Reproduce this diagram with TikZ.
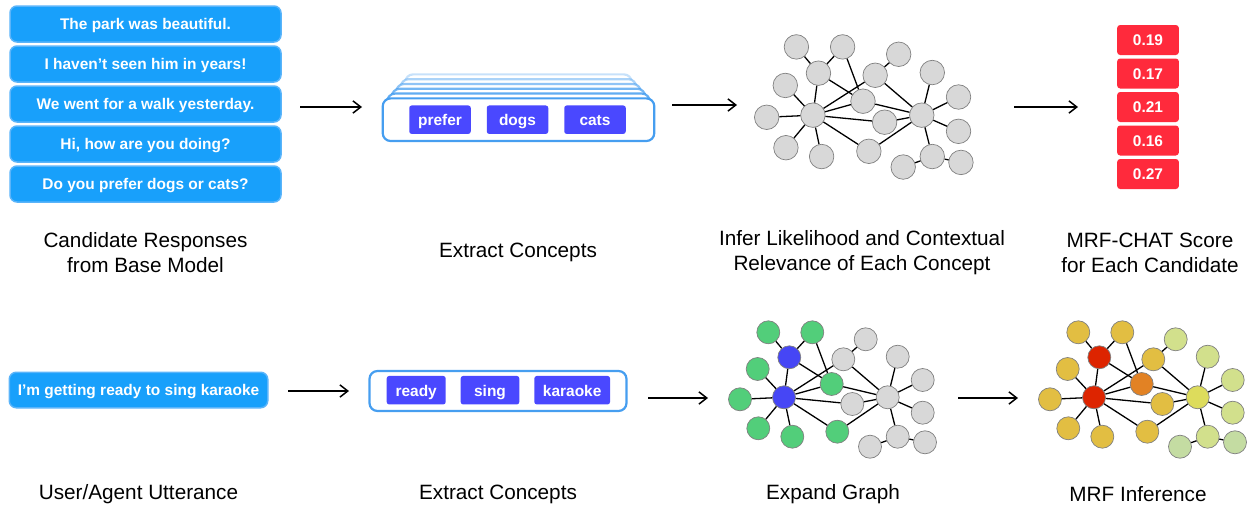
\documentclass[tikz,border=0pt]{standalone}
\usepackage{fontspec}
\setmainfont{Liberation Sans}
\usetikzlibrary{arrows.meta}

% one pixel of the layout
\newdimen\pxu \pxu=0.02cm

\definecolor{respblue}{RGB}{24,160,251}
\definecolor{respedge}{RGB}{90,180,250}
\definecolor{chipblue}{RGB}{74,72,255}
\definecolor{stackedge}{RGB}{70,158,240}
\definecolor{scorered}{RGB}{255,42,60}
\definecolor{nodegray}{RGB}{216,216,216}
\definecolor{nodeedge}{RGB}{128,128,128}
\definecolor{nodegreen}{RGB}{82,206,122}
\definecolor{nodeblue}{RGB}{70,70,245}
\definecolor{mrfred}{RGB}{221,36,0}
\definecolor{mrforange}{RGB}{226,130,36}
\definecolor{mrfgold}{RGB}{226,190,66}
\definecolor{mrfyellow}{RGB}{221,220,92}
\definecolor{mrflime}{RGB}{210,224,140}
\definecolor{mrfsage}{RGB}{196,220,162}

\tikzset{
  whitetext/.style={text=white, font=\fontsize{8.8}{10}\selectfont\bfseries,
    text height=0.72em, text depth=0.04em},
  response/.style={rectangle, rounded corners=7\pxu, fill=respblue, draw=respedge,
    line width=1.5\pxu, minimum width=271\pxu, minimum height=36\pxu, inner sep=0pt, whitetext},
  chip/.style={rectangle, rounded corners=2.5\pxu, fill=chipblue, minimum height=28.5\pxu,
    inner sep=0pt, whitetext},
  conceptbox/.style={rectangle, rounded corners=8\pxu, draw=stackedge, line width=2.2\pxu, fill=white},
  score/.style={rectangle, rounded corners=3\pxu, fill=scorered, minimum width=61.7\pxu,
    minimum height=30\pxu, inner sep=0pt, whitetext},
  caption/.style={align=center, inner sep=0pt, font=\fontsize{11.8}{14.2}\selectfont},
  flow/.style={-{Straight Barb[length=4.5pt,width=7pt]}, line width=0.85pt},
  cnode/.style={circle, draw=nodeedge, line width=0.7\pxu, fill=nodegray, minimum size=23\pxu, inner sep=0pt},
  link/.style={line width=1.3\pxu, black},
}

% concept graph layout (pixels, relative to its top left)
\def\graphx{{28.3,72.3,125.7,49.3,103.3,157.7,17.7,182.7,91.7,0,44,147.7,112.3,182.7,18.3,52.3,97.3,157.7,130,185}}
\def\graphy{{2.3,2.3,9.3,27.3,29.3,26.7,39,50,54,69.3,67.3,67.3,74,82.7,98.3,106.7,101.7,106.7,116.7,112.3}}

\newcommand{\conceptgraph}[3]{%
  \begin{scope}[#2]
    \foreach \col [count=\idx] in {#3} {
      \pgfmathsetmacro{\posx}{\graphx[\idx-1]}
      \pgfmathsetmacro{\posy}{\graphy[\idx-1]}
      \node[cnode, fill=\col] (#1-\idx) at (\posx,\posy) {};
    }
    \foreach \a/\b in {1/4,2/4,2/9,3/5,4/11,4/9,7/11,10/11,11/5,11/9,11/13,11/15,11/16,11/17,
                       5/12,9/12,13/12,17/12,6/12,8/12,14/12,12/18,18/19,18/20}
      \draw[link] (#1-\a) -- (#1-\b);
  \end{scope}}

\begin{document}
\begin{tikzpicture}[x=1\pxu, y=-1\pxu]
  \useasboundingbox (0,0) rectangle (1249,507);

  % candidate responses
  \foreach \txt [count=\idx] in {The park was beautiful., I haven’t seen him in years!,
      We went for a walk yesterday., {Hi, how are you doing?}, Do you prefer dogs or cats?}
    \node[response] (resp-\idx) at (145.5,{24+40*(\idx-1)}) {\txt};

  % stacked concept boxes
  \foreach \k/\op in {5/0.3,4/0.45,3/0.6,2/0.75,1/0.85}
    \node[conceptbox, draw opacity=\op, minimum width={(271.6-9*\k)*\pxu},
          minimum height=42.7\pxu] (stack-\k) at (518.5,{119.7-4.8*\k}) {};
  \node[conceptbox, minimum width=271.6\pxu, minimum height=42.7\pxu] (concepts) at (518.5,119.7) {};
  \node[chip, minimum width=61.5\pxu] (c-prefer) at (440,119.7) {prefer};
  \node[chip, minimum width=61.5\pxu] (c-dogs) at (517.5,119.7) {dogs};
  \node[chip, minimum width=61.5\pxu] (c-cats) at (595,119.7) {cats};

  % concept graph
  \conceptgraph{top}{shift={(766.7,44.5)}, scale=1.05, cnode/.append style={minimum size=24.5\pxu}}{%
    nodegray,nodegray,nodegray,nodegray,nodegray,nodegray,nodegray,nodegray,nodegray,nodegray,
    nodegray,nodegray,nodegray,nodegray,nodegray,nodegray,nodegray,nodegray,nodegray,nodegray}

  % scores
  \foreach \s [count=\idx] in {0.19,0.17,0.21,0.16,0.27}
    \node[score] (score-\idx) at (1148,{40+33.5*(\idx-1)}) {\s};

  % utterance
  \node[response, minimum width=258.5\pxu, minimum height=35.5\pxu] (utter) at (138.5,390)
    {I’m getting ready to sing karaoke};

  \node[conceptbox, minimum width=257\pxu, minimum height=40\pxu] (uconcepts) at (498,391) {};
  \node[chip, minimum width=59\pxu] (c-ready) at (416.2,390.2) {ready};
  \node[chip, minimum width=58.6\pxu] (c-sing) at (490,390.2) {sing};
  \node[chip, minimum width=75.7\pxu] (c-karaoke) at (572.2,390.2) {karaoke};

  % expanded graph
  \conceptgraph{expand}{shift={(740,330)}}{%
    nodegreen,nodegreen,nodegray,nodeblue,nodegray,nodegray,nodegreen,nodegray,nodegreen,nodegreen,
    nodeblue,nodegray,nodegray,nodegray,nodegreen,nodegreen,nodegreen,nodegray,nodegray,nodegray}

  % inferred graph
  \conceptgraph{infer}{shift={(1050,330)}}{%
    mrfgold,mrfgold,mrflime,mrfred,mrfgold,mrflime,mrfgold,mrflime,mrforange,mrfgold,
    mrfred,mrfyellow,mrfgold,mrflime,mrfgold,mrfgold,mrfgold,mrflime,mrfsage,mrfsage}

  % arrows
  \coordinate (a1s) at (300,107); \coordinate (a1e) at (362,107);
  \coordinate (a2s) at (672,105); \coordinate (a2e) at (737,105);
  \coordinate (a3s) at (1014,107); \coordinate (a3e) at (1078,107);
  \coordinate (b1s) at (288,391); \coordinate (b1e) at (349,391);
  \coordinate (b2s) at (648,398); \coordinate (b2e) at (708,398);
  \coordinate (b3s) at (958,398); \coordinate (b3e) at (1018,398);
  \foreach \p in {a1,a2,a3,b1,b2,b3}
    \draw[flow] (\p s) -- (\p e);

  % captions
  \node[caption] (cap-resp) at (145.5,252.5) {Candidate Responses\\from Base Model};
  \node[caption] (cap-extract) at (518,252.5) {Extract Concepts};
  \node[caption] (cap-infer) at (862,252.5) {Infer Likelihood and Contextual\\Relevance of Each Concept};
  \node[caption] (cap-score) at (1150,252.5) {MRF-CHAT Score\\for Each Candidate};
  \node[caption] (cap-utter) at (138.5,494) {User/Agent Utterance};
  \node[caption] (cap-uextract) at (498,494) {Extract Concepts};
  \node[caption] (cap-expand) at (833,494) {Expand Graph};
  \node[caption] (cap-mrf) at (1138,494) {MRF Inference};
\end{tikzpicture}
\end{document}
